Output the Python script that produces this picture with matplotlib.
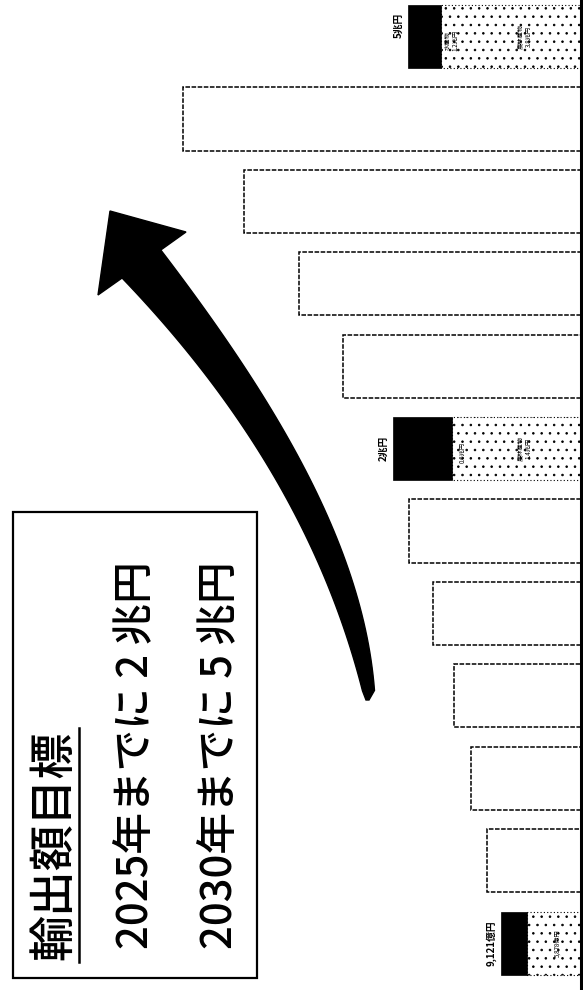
import matplotlib
matplotlib.use("Agg")
import matplotlib.pyplot as plt
from matplotlib.patches import Rectangle, Polygon
import numpy as np

plt.rcParams['font.family'] = ['Noto Sans CJK JP', 'DejaVu Sans']
plt.rcParams['hatch.linewidth'] = 0.6

# ---------------- data ----------------
years = [2019, 2020, 2021, 2022, 2023, 2024, 2025, 2026, 2027, 2028, 2029, 2030]
# illustrative bar lengths (兆円-like units, as drawn)
outline_values = [0, 1.00, 1.17, 1.35, 1.57, 1.83, 0, 2.53, 3.00, 3.59, 4.23, 0]
# labelled bars: speckled part (農林産物) and black part (水産物)
speckle_values = [0.57, 0, 0, 0, 0, 0, 1.37, 0, 0, 0, 0, 1.49]
black_values = [0.28, 0, 0, 0, 0, 0, 0.63, 0, 0, 0, 0, 0.35]
total_labels = {2019: "9,121億円", 2025: "2兆円", 2030: "5兆円"}
black_labels = {2019: "", 2025: "0.6兆円", 2030: "水産物\n1.2兆円"}
speckle_labels = {2019: "5,878億円", 2025: "農林産物\n1.4兆円", 2030: "農林産物\n3.8兆円"}
box_title = "輸出額目標"
box_lines = ["2025年までに 2 兆円", "2030年までに 5 兆円"]

W, H = 583, 990
fig = plt.figure(figsize=(W / 100, H / 100), dpi=100)

# ---------------- bar axes ----------------
ax = fig.add_axes([0, 0, 1, 1])
PX = 94.0  # px per unit
ax.set_xlim(581 / PX, -2 / PX)
ax.set_ylim(-0.570, 11.444)
ax.axis('off')

pos = np.arange(len(years))
bh = 0.765
ax.barh(pos, outline_values, height=bh, left=0, color='white', edgecolor='black',
        linewidth=1.1, linestyle=(0, (3, 1)))
ax.barh(pos, speckle_values, height=bh, left=0, color='white', edgecolor='black',
        linewidth=0.8, linestyle=(0, (1, 2)), hatch='..')
ax.barh(pos, black_values, height=bh, left=speckle_values, color='black',
        edgecolor='black', linewidth=0.5)
ax.axvline(0, color='black', linewidth=2.2)

for i, y in enumerate(years):
    if y in total_labels:
        tot = speckle_values[i] + black_values[i]
        ty = i if y != 2030 else i + 0.14
        ax.text(tot + 0.1, ty, total_labels[y], rotation=90, ha='center', va='center',
                fontsize=7, color='black', fontweight='bold')
        if black_labels[y]:
            ax.text(speckle_values[i] - 0.11, i - 0.05, black_labels[y], rotation=90,
                    ha='center', va='center', fontsize=4.5, color='black', linespacing=1.0)
        sx = 0.25 if y == 2019 else 0.6
        ax.text(sx, i, speckle_labels[y], rotation=90, ha='center', va='center',
                fontsize=4.5, color='black', linespacing=1.0)

# ---------------- overlay in pixel coords ----------------
ov = fig.add_axes([0, 0, 1, 1])
ov.set_xlim(0, W)
ov.set_ylim(H, 0)
ov.axis('off')
ov.patch.set_alpha(0)

ov.add_patch(Rectangle((13, 512), 244, 466, fill=False, edgecolor='black', linewidth=1.6))
ov.text(54, 845, box_title, rotation=90, ha='center', va='center', fontsize=33,
        fontweight='medium')
ov.plot([79, 79], [728, 962], color='black', linewidth=1.8)
ov.text(135, 755, box_lines[0], rotation=90, ha='center', va='center', fontsize=30,
        fontweight='medium')
ov.text(219, 755, box_lines[1], rotation=90, ha='center', va='center', fontsize=30,
        fontweight='medium')

# curved arrow (smooth edges fitted through traced points)
r_pts = np.array([(162, 250), (200, 307), (233, 350), (267, 397), (293, 447), (317, 497),
                  (340, 547), (357, 597), (370, 647), (374, 690)], dtype=float)
l_pts = np.array([(123, 278), (147, 307), (183, 347), (217, 387), (250, 433), (273, 480),
                  (300, 530), (327, 580), (347, 630), (361, 690)], dtype=float)
rc = np.polyfit(r_pts[:, 1], r_pts[:, 0], 3)
lc = np.polyfit(l_pts[:, 1], l_pts[:, 0], 3)
ry = np.linspace(250, 698, 60)
ly = np.linspace(698, 278, 60)
right = list(zip(np.polyval(rc, ry), ry))
left = list(zip(np.polyval(lc, ly), ly))
right[-1] = (369, 700)
left[0] = (366, 700)
pts = [(110, 211), (186, 232)] + right + left + [(98, 295)]
ov.add_patch(Polygon(pts, closed=True, facecolor='black', edgecolor='black',
                     linewidth=1, joinstyle='miter'))

fig.savefig("out.png", dpi=100, facecolor='white')
